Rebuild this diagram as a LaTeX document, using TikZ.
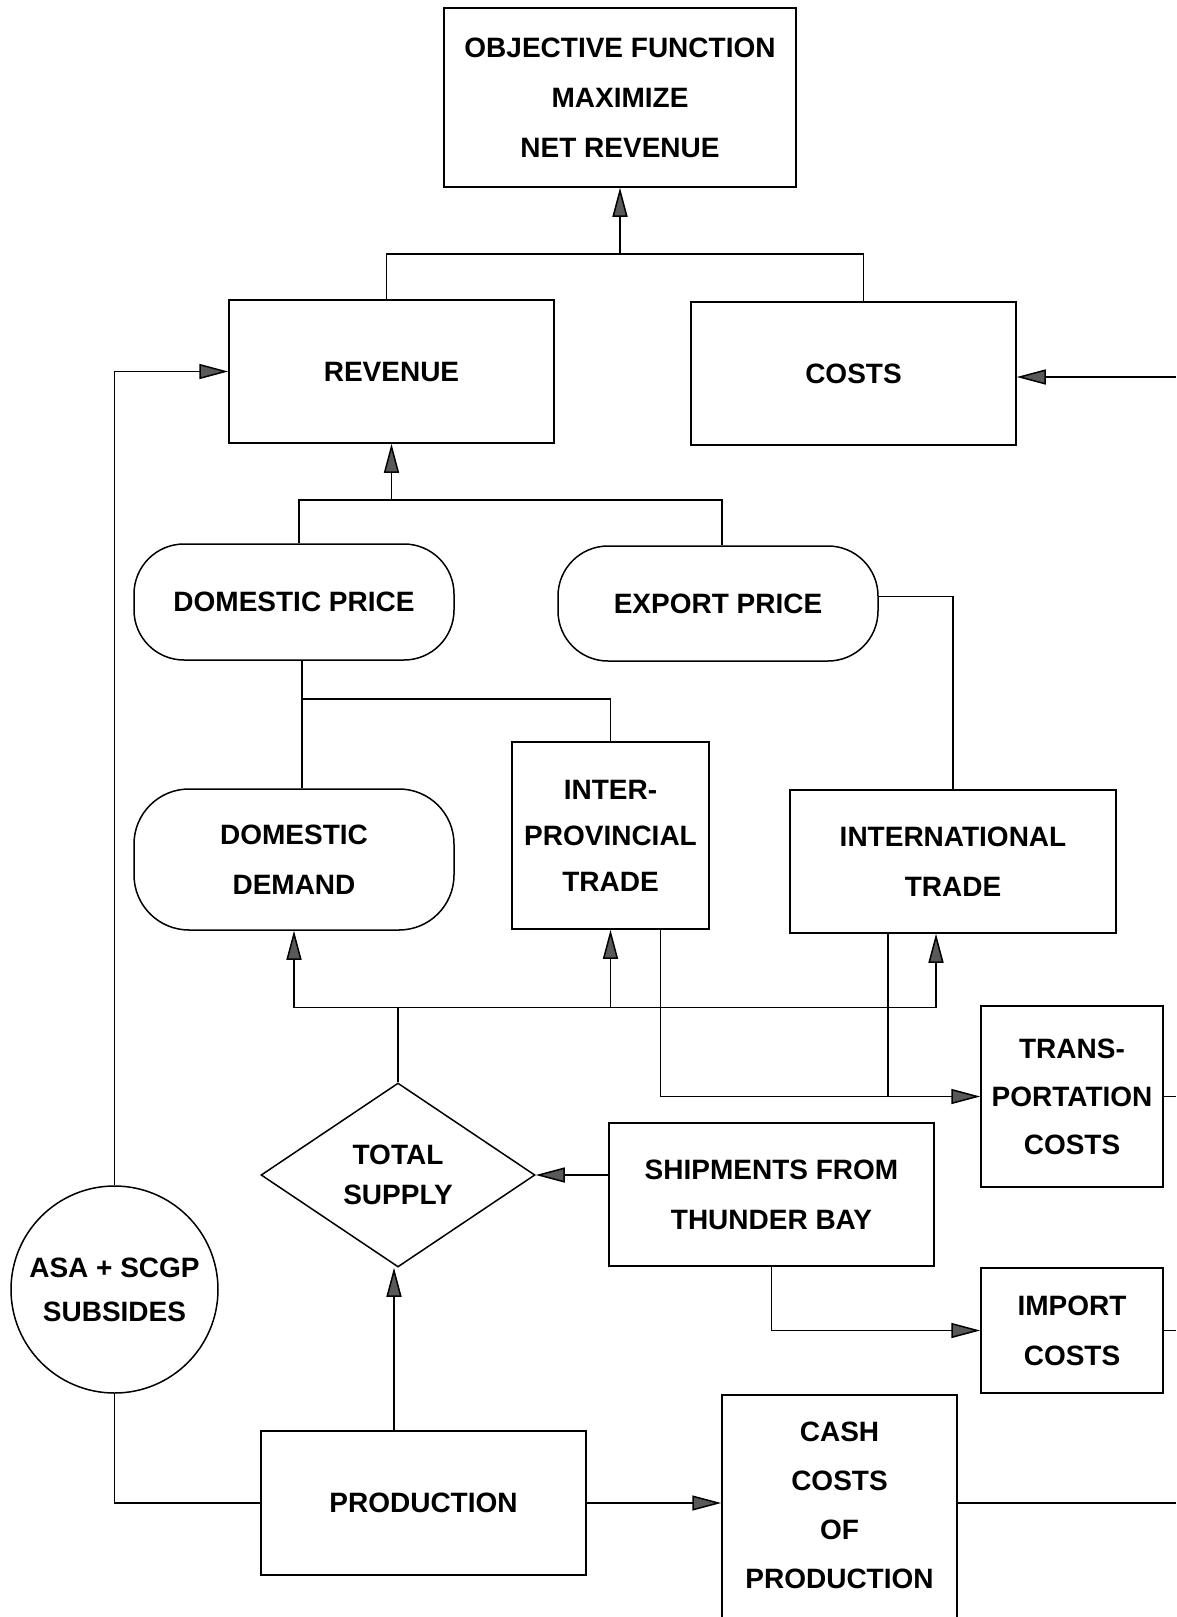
\documentclass[tikz,border=0pt]{standalone}
\usepackage{fontspec}
\setmainfont{Liberation Sans}
\usetikzlibrary{arrows.meta,shapes.geometric,calc}
\begin{document}
\begin{tikzpicture}[x=1pt,y=-1pt,line width=1.5pt,
  every node/.style={align=center,inner sep=0pt},
  tx/.style={font=\fontsize{28}{#1}\selectfont\bfseries},
  tx/.default=50,
  box/.style={draw,rectangle,tx},
  arr/.style={-{Triangle[length=29pt,width=15pt,fill=black!65]}}]
\useasboundingbox (0,0) rectangle (1176,1617);
\clip (0,0) rectangle (1176,1617);
\fill[white] (0,0) rectangle (1176,1617);
% nodes
\node[box,minimum width=352,minimum height=179] (obj) at (620,97.5) {OBJECTIVE FUNCTION\\MAXIMIZE\\NET REVENUE};
\node[box,minimum width=325,minimum height=143] (rev) at (391.5,371.5) {REVENUE};
\node[box,minimum width=325,minimum height=143] (cost) at (853.5,373.5) {COSTS};
\node[box,rounded corners=50,minimum width=320,minimum height=116] (dp) at (294,602) {DOMESTIC PRICE};
\node[box,rounded corners=50,minimum width=320,minimum height=115] (ep) at (718,603.5) {EXPORT PRICE};
\node[box,rounded corners=55,minimum width=320,minimum height=141] (dd) at (294,859.5) {DOMESTIC\\DEMAND};
\node[box,tx=46,minimum width=197,minimum height=187] (ip) at (610.5,835.5) {INTER-\\PROVINCIAL\\TRADE};
\node[box,minimum width=326,minimum height=143] (it) at (953,861.5) {INTERNATIONAL\\TRADE};
\node[box,tx=48,minimum width=182,minimum height=181] (tc) at (1072,1096.5) {TRANS-\\PORTATION\\COSTS};
\node[draw,diamond,tx=40,minimum width=274,minimum height=184] (ts) at (398,1175) {TOTAL\\SUPPLY};
\node[box,minimum width=325,minimum height=143] (sh) at (771.5,1194.5) {SHIPMENTS FROM\\THUNDER BAY};
\node[box,minimum width=182,minimum height=125] (im) at (1072,1330.5) {IMPORT\\COSTS};
\node[draw,circle,tx=44,minimum size=207] (cs) at (114.5,1289.5) {ASA + SCGP\\SUBSIDES};
\node[box,minimum width=325,minimum height=144] (pr) at (423.5,1503) {PRODUCTION};
\node[draw,rectangle,minimum width=235,minimum height=265] (cc) at (839.5,1527.5) {};
\node[tx=49] (cct) at (839.5,1505) {CASH\\COSTS\\OF\\PRODUCTION};
% coordinates
\coordinate (j1) at ($(obj.south)+(0,66)$);
\coordinate (j2) at ($(rev.south)+(0,56)$);
\coordinate (revt) at ($(rev.north)+(-5,0)$);
\coordinate (costt) at ($(cost.north)+(10,0)$);
\coordinate (dpt) at ($(dp.north)+(5,0)$);
\coordinate (ept) at ($(ep.north)+(4,0)$);
\coordinate (epr) at ($(ep.east)+(0,-7)$);
\coordinate (dpb) at ($(dp.south)+(8,0)$);
\coordinate (j3) at ($(dpb)+(0,38)$);
\coordinate (j4) at ($(ts.north)+(0,-75)$);
\coordinate (ipb) at ($(ip.south)+(50,0)$);
\coordinate (itb) at ($(it.south)+(-65,0)$);
\coordinate (ita) at ($(it.south)+(-17,0)$);
\coordinate (tsb) at ($(ts.south)+(-4,0)$);
\coordinate (e1) at (1176,377);
% connectors
\draw (revt) |- (j1) -| (costt);
\draw[arr] (j1) -- (obj.south);
\draw (dpt) |- (j2) -| (ept);
\draw[arr] (j2) -- (rev.south);
\draw (epr) -| (it.north);
\draw (dpb) -- (dpb |- dd.north);
\draw (j3) -| (ip.north);
\draw (ts.north) -- (j4);
\draw[arr] (j4) -| (dd.south);
\draw[arr] (j4) -| (ip.south);
\draw[arr] (j4) -| (ita);
\draw[arr] (ipb) |- (tc.west);
\draw (itb) -- (itb |- tc.west);
\draw[arr] (sh.west |- ts.east) -- (ts.east);
\draw[arr] (sh.south) |- (im.west);
\draw[arr] (tsb |- pr.north) -- (tsb);
\draw[arr] (cs.north) |- (rev.west);
\draw (cs.south) |- (pr.west);
\draw[arr] (pr.east) -- (pr.east -| cc.west);
\draw (cc.east |- pr.east) -- (pr.east -| e1);
\draw (tc.east) -- (tc.east -| e1);
\draw (im.east) -- (im.east -| e1);
\draw[arr] (e1) -- (e1 -| cost.east);
\end{tikzpicture}
\end{document}
